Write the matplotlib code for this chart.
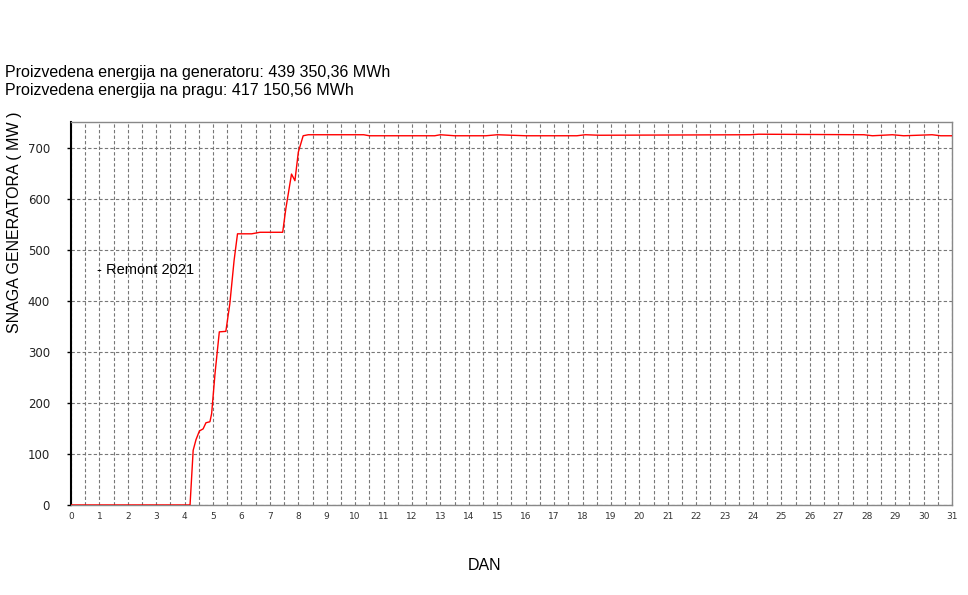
import matplotlib
matplotlib.use("Agg")
import matplotlib.pyplot as plt

# day of month vs generator power (MW)
dan = [0, 4.19, 4.30, 4.40, 4.52, 4.65, 4.75, 4.89, 4.95, 5.07, 5.22, 5.45, 5.59,
       5.74, 5.86, 6.36, 6.65, 7.45, 7.56, 7.76, 7.88, 8.00, 8.17, 8.35,
       10.3, 10.5, 12.8, 13.0, 13.5, 14.6, 15.0, 16.0, 17.8, 18.1, 18.6, 23.9,
       24.2, 27.9, 28.2, 28.9, 29.3, 30.3, 30.6, 31]
snaga = [0, 0, 107, 128, 145, 149, 161, 163, 179, 258, 339, 340, 394,
         479, 531, 531, 534, 534, 580, 648, 635, 691, 723, 725,
         725, 723, 723, 725, 723, 723, 725, 723, 723, 725, 724, 725,
         726, 725, 723, 725, 723, 725, 723, 723]

yticks = [0, 100, 200, 300, 400, 500, 600, 700]
xticks = list(range(0, 32))

plt.rcParams['font.family'] = ['Liberation Sans', 'DejaVu Sans']

fig = plt.figure(figsize=(9.68, 5.95), dpi=100)
ax = fig.add_axes([0.0733, 0.1513, 0.9102, 0.6437])

ax.plot(dan, snaga, color='#ff0000', lw=1.0, zorder=3)

ax.set_xlim(0, 31)
ax.set_ylim(0, 750)
ax.set_xticks(xticks)
ax.set_xticks([x + 0.5 for x in range(31)], minor=True)
ax.set_yticks(yticks)
ax.set_xticklabels([str(x) for x in xticks], fontsize=6.5, color='#333333',
                   family='DejaVu Sans')
ax.set_yticklabels([str(y) for y in yticks], fontsize=8.5, color='#222222',
                   family='DejaVu Sans')
ax.grid(which='both', axis='x', color='#777777', ls=(0, (3, 2)), lw=0.8)
ax.grid(which='major', axis='y', color='#777777', ls=(0, (3, 2)), lw=0.8)
ax.tick_params(axis='x', which='both', length=0, pad=5)
ax.tick_params(axis='y', length=3, width=1, pad=12)

for s in ['top', 'right', 'bottom']:
    ax.spines[s].set_color('#888888')
    ax.spines[s].set_linewidth(1)
ax.spines['left'].set_color('black')
ax.spines['left'].set_linewidth(1.5)

ax.text(0.9, 460, '- Remont 2021', fontsize=10.5, va='center', ha='left')

fig.text(5 / 968, 1 - 72 / 595, 'Proizvedena energija na generatoru: 439 350,36 MWh',
         fontsize=11.5, va='center', ha='left')
fig.text(5 / 968, 1 - 91 / 595, 'Proizvedena energija na pragu: 417 150,56 MWh',
         fontsize=11.5, va='center', ha='left')
fig.text(15 / 968, 1 - 222 / 595, 'SNAGA GENERATORA ( MW )', rotation=90,
         fontsize=11.5, va='center', ha='center')
fig.text(485 / 968, 1 - 565 / 595, 'DAN', fontsize=11.5, va='center', ha='center')

fig.savefig('out.png', dpi=100)
